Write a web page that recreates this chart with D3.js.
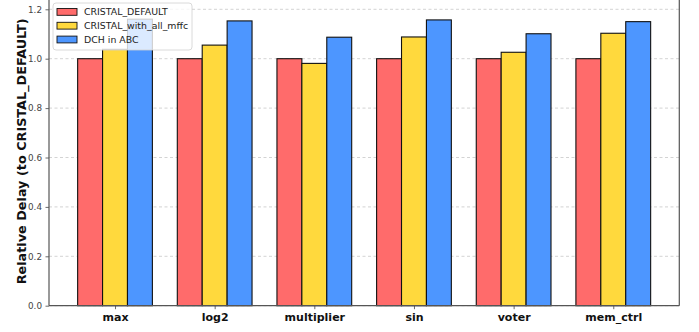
<!DOCTYPE html>
<html>
<head>
<meta charset="utf-8">
<script src="https://cdn.jsdelivr.net/npm/d3@7"></script>
<style>
  html, body { margin: 0; padding: 0; background: #fff; }
  svg { display: block; font-family: "DejaVu Sans", sans-serif; }
</style>
</head>
<body>
<svg id="chart" width="699" height="332"></svg>
<script>
// Benchmarks on the x axis
const categories = ["max", "log2", "multiplier", "sin", "voter", "mem_ctrl"];

// Relative delay of each flow, normalised to CRISTAL_DEFAULT
const cristalDefault = [1.0, 1.0, 1.0, 1.0, 1.0, 1.0];
const cristalAllMffc = [1.038, 1.055, 0.981, 1.088, 1.026, 1.103];
const dchInAbc      = [1.16, 1.153, 1.087, 1.157, 1.101, 1.150];

const seriesNames = ["CRISTAL_DEFAULT", "CRISTAL_with_all_mffc", "DCH in ABC"];
const seriesColors = ["#FF6B6B", "#FFD93D", "#4D96FF"];
const yTicks = [0.0, 0.2, 0.4, 0.6, 0.8, 1.0, 1.2];

const series = [cristalDefault, cristalAllMffc, dchInAbc];

const svg = d3.select("#chart");
const left = 49, right = 679.3, bottom = 305.7;
const barW = 0.25;

// Numeric x scale: group i sits at i, with matplotlib-style 5% margins
const x = d3.scaleLinear().domain([-0.6625, 5.6625]).range([left, right]);
const y = d3.scaleLinear().domain([0, 1.25]).range([bottom, bottom - 1.25 * 247]);

// Horizontal dashed grid
svg.append("g").selectAll("line").data(yTicks).join("line")
  .attr("x1", left).attr("x2", right)
  .attr("y1", d => y(d)).attr("y2", d => y(d))
  .attr("stroke", "#c8c8c8").attr("stroke-width", 0.8)
  .attr("stroke-dasharray", "3,2.5");

// Bars
series.forEach((vals, s) => {
  svg.append("g").selectAll("rect").data(vals).join("rect")
    .attr("x", (d, i) => x(i + (s - 1) * barW - barW / 2))
    .attr("width", x(barW) - x(0))
    .attr("y", d => y(d))
    .attr("height", d => y(0) - y(d))
    .attr("fill", seriesColors[s])
    .attr("stroke", "#111").attr("stroke-width", 1.1);
});

// Axes
const yAxis = d3.axisLeft(y).tickValues(yTicks).tickFormat(d3.format(".1f")).tickSize(3.5).tickPadding(3.5);
const gy = svg.append("g").attr("transform", `translate(${left},0)`).call(yAxis);
gy.select(".domain").remove();
gy.selectAll("text").attr("font-size", 8.8).attr("fill", "#444").attr("font-family", "DejaVu Sans");
gy.selectAll("line").attr("stroke", "#444").attr("stroke-width", 0.8);

const xAxis = d3.axisBottom(x).tickValues(d3.range(categories.length))
  .tickFormat(i => categories[i]).tickSize(3.5).tickPadding(4);
const gx = svg.append("g").attr("transform", `translate(0,${bottom})`).call(xAxis);
gx.select(".domain").remove();
gx.selectAll("text").attr("font-size", 11).attr("font-weight", "bold").attr("fill", "#111")
  .attr("font-family", "DejaVu Sans");
gx.selectAll("line").attr("stroke", "#444").attr("stroke-width", 0.8);

// Spines
const spine = svg.append("g").attr("stroke", "#555").attr("stroke-width", 1.2).attr("fill", "none");
spine.append("line").attr("x1", left).attr("x2", left).attr("y1", -5).attr("y2", bottom);
spine.append("line").attr("x1", right).attr("x2", right).attr("y1", -5).attr("y2", bottom);
spine.append("line").attr("x1", left).attr("x2", right).attr("y1", bottom).attr("y2", bottom);

// Y axis title
svg.append("text")
  .attr("transform", `translate(25.5,${(bottom + y(1.25)) / 2}) rotate(-90)`)
  .attr("text-anchor", "middle")
  .attr("font-size", 12.8).attr("font-weight", "bold").attr("fill", "#111")
  .text("Relative Delay (to CRISTAL_DEFAULT)");

// Legend
const lg = svg.append("g").attr("transform", "translate(53,3)");
lg.append("rect").attr("width", 139).attr("height", 47).attr("rx", 3)
  .attr("fill", "#fff").attr("fill-opacity", 0.8)
  .attr("stroke", "#d0d0d0").attr("stroke-width", 0.8);
seriesNames.forEach((name, i) => {
  const row = lg.append("g").attr("transform", `translate(0,${8.7 + i * 13.8})`);
  row.append("rect").attr("x", 4).attr("y", -3.2).attr("width", 20).attr("height", 6.8)
    .attr("fill", seriesColors[i]).attr("stroke", "#111").attr("stroke-width", 0.9);
  row.append("text").attr("x", 31).attr("y", 3.3)
    .attr("font-size", 9.4).attr("fill", "#222").text(name);
});
</script>
</body>
</html>
